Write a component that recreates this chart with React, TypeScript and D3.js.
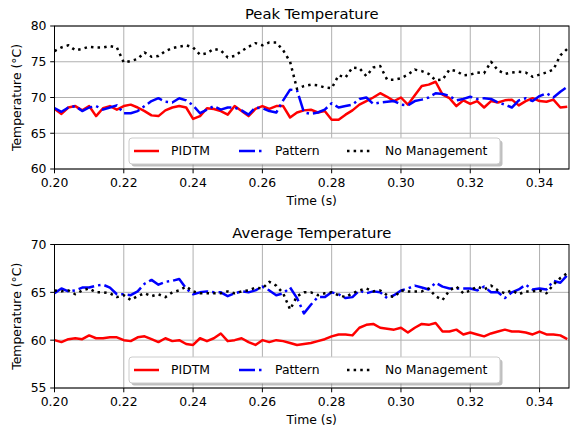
import React from 'react';
import * as d3 from 'd3';

// sampling grid: 0.200 s .. 0.348 s
const startTime = 0.2;
const timeStep = 0.002;

const peakPidtm = [68.4,67.7,68.6,68.8,68.2,68.8,67.4,68.5,68.8,68.3, 68.8,69.0,68.6,68.1,67.5,67.4,68.2,68.6,68.8,68.6,
  67.0,67.4,68.5,68.4,68.1,67.6,68.8,68.1,67.4,68.4, 68.8,68.4,68.8,68.8,67.2,67.9,68.2,68.3,67.9,68.1,
  66.9,66.9,67.6,68.2,69.0,69.5,70.0,70.6,70.1,69.5, 70.0,69.0,70.3,71.6,71.8,72.2,70.4,69.9,68.8,69.6,
  69.1,69.5,68.6,69.5,69.3,69.6,69.7,68.9,69.5,69.9, 69.5,69.4,69.7,68.6,68.7];
const peakPattern = [68.5,68.0,68.6,68.8,68.1,68.6,68.8,68.3,68.6,68.9, 67.8,67.8,68.1,68.8,69.5,69.9,69.4,69.3,69.9,69.6,
  68.9,67.8,68.3,68.8,68.3,68.6,68.6,68.2,67.6,68.6, 68.5,68.1,67.9,69.6,71.1,71.0,67.9,67.7,67.9,68.3,
  69.2,68.6,68.8,69.0,69.8,70.0,69.1,69.3,69.4,69.5, 69.0,68.9,69.5,69.7,70.0,70.6,70.5,70.2,69.6,69.8,
  70.1,69.8,69.9,69.8,69.3,69.0,68.6,69.6,69.9,69.5, 70.2,70.6,70.0,70.8,71.5];
const peakNoMgmt = [76.5,77.0,77.3,76.6,76.8,77.1,77.0,77.0,77.2,77.0, 74.9,75.1,75.4,76.3,75.7,75.8,76.5,76.9,77.1,77.3,
  77.0,76.0,76.2,76.8,76.6,75.6,75.8,76.5,77.1,77.6, 77.3,77.7,77.7,76.6,75.0,71.2,71.6,71.8,71.7,71.4,
  71.3,73.1,72.8,74.2,74.1,73.0,74.2,74.4,72.5,72.5, 72.7,73.2,73.9,73.7,73.3,72.4,72.5,73.9,73.7,73.1,
  73.2,73.5,73.4,75.0,73.8,73.3,73.5,73.6,73.5,72.9, 73.2,73.5,73.9,75.9,76.8];

const avgPidtm = [60.0,59.8,60.1,60.2,60.1,60.5,60.2,60.2,60.3,60.3, 60.0,59.9,60.3,60.4,60.1,59.8,60.2,59.9,60.0,59.6,
  59.5,60.2,59.9,60.2,60.7,59.9,60.0,60.2,59.8,59.5, 60.0,59.8,60.0,59.9,59.7,59.5,59.6,59.7,59.9,60.1,
  60.4,60.6,60.6,60.5,61.3,61.6,61.7,61.3,61.2,61.1, 61.3,60.8,61.3,61.7,61.6,61.8,60.9,60.9,61.1,60.6,
  60.8,60.6,60.4,60.7,60.9,61.1,60.9,60.9,60.8,60.6, 60.9,60.6,60.6,60.5,60.1];
const avgPattern = [64.9,65.4,65.1,65.2,65.5,65.5,65.7,65.8,65.5,64.8, 64.8,64.7,65.1,65.9,66.3,65.8,66.1,66.2,66.4,65.4,
  64.8,65.0,65.1,65.0,65.0,64.6,64.9,65.1,65.0,65.2, 65.6,65.2,64.7,64.9,65.5,64.4,62.8,63.7,64.5,64.5,
  65.0,64.8,64.4,64.5,65.2,64.9,65.1,65.0,64.4,64.7, 65.2,65.4,65.7,65.5,65.3,66.0,65.6,65.4,65.4,65.4,
  65.4,65.2,65.6,65.0,65.0,64.4,65.0,65.3,65.8,65.3, 65.4,65.3,66.2,66.0,66.8];
const avgNoMgmt = [65.2,65.1,65.2,64.8,65.2,65.4,65.0,65.0,64.9,64.5, 64.7,64.2,64.6,64.9,64.6,64.8,64.5,65.0,65.2,65.6,
  65.1,64.9,64.9,64.9,64.9,65.1,64.9,65.1,65.2,65.5, 65.4,66.1,65.7,64.9,63.2,64.6,65.0,65.0,64.7,64.9,
  65.0,64.7,64.5,64.9,65.2,65.4,65.1,65.2,64.7,64.5, 65.2,65.1,65.1,65.1,65.4,64.6,64.2,65.2,65.6,64.9,
  65.2,65.6,65.3,65.7,65.2,64.9,65.2,64.8,65.1,65.1, 65.2,64.9,65.8,66.5,67.0];

const xTicks = [0.2, 0.22, 0.24, 0.26, 0.28, 0.3, 0.32, 0.34];
const peakTicks = [60, 65, 70, 75, 80];
const avgTicks = [55, 60, 65, 70];
const seriesNames = ['PIDTM', 'Pattern', 'No Management'];

const font = 'DejaVu Sans';
const lw = 2.5;
const styles = [
  { color: '#ff0000', dash: undefined as string | undefined },
  { color: '#0000ff', dash: `${6.4 * lw},${1.6 * lw},${lw},${1.6 * lw}` },
  { color: '#000000', dash: `${lw},${1.65 * lw}` },
];

const left = 54.5;
const right = 569;
const x = d3.scaleLinear().domain([0.2, 0.3485]).range([left, right]);

function Panel({ id, top, bottom, yDomain, yTicks, title, series }: any) {
  const y = d3.scaleLinear().domain(yDomain).range([bottom, top]);
  const line = d3.line<number>()
    .x((_, i) => x(startTime + i * timeStep))
    .y(d => y(d));
  const legTop = bottom - 31;
  const legLeft = 129;
  const legW = 371;
  const legH = 26;
  const legY = legTop + legH / 2;
  const handleX = [134, 239, 347];
  const labelX = [171, 275, 385];
  return (
    <g>
      <defs>
        <clipPath id={id}>
          <rect x={left} y={top} width={right - left} height={bottom - top} />
        </clipPath>
      </defs>
      {xTicks.map(t => (
        <line key={t} x1={x(t)} x2={x(t)} y1={top} y2={bottom} stroke="#b0b0b0" strokeWidth={1} />
      ))}
      {yTicks.map((t: number) => (
        <line key={t} x1={left} x2={right} y1={y(t)} y2={y(t)} stroke="#b0b0b0" strokeWidth={1} />
      ))}
      <g clipPath={`url(#${id})`}>
        {series.map((s: number[], k: number) => (
          <path key={k} d={line(s) || ''} fill="none" stroke={styles[k].color} strokeWidth={lw}
            strokeDasharray={styles[k].dash} strokeLinejoin="round" />
        ))}
      </g>
      <rect x={left} y={top} width={right - left} height={bottom - top} fill="none" stroke="#000" strokeWidth={1} />
      {xTicks.map(t => (
        <g key={t}>
          <line x1={x(t)} x2={x(t)} y1={bottom} y2={bottom + 4.3} stroke="#000" strokeWidth={1} />
          <text x={x(t)} y={bottom + 18} textAnchor="middle" fontSize={12.4} fontFamily={font}>{d3.format('.2f')(t)}</text>
        </g>
      ))}
      {yTicks.map((t: number) => (
        <g key={t}>
          <line x1={left - 4.3} x2={left} y1={y(t)} y2={y(t)} stroke="#000" strokeWidth={1} />
          <text x={left - 8} y={y(t) + 4.4} textAnchor="end" fontSize={12.4} fontFamily={font}>{t}</text>
        </g>
      ))}
      <text x={(left + right) / 2} y={top - 7} textAnchor="middle" fontSize={14.8} fontFamily={font}>{title}</text>
      <text x={(left + right) / 2} y={bottom + 36} textAnchor="middle" fontSize={12.4} fontFamily={font}>Time (s)</text>
      <text transform={`translate(21,${(top + bottom) / 2}) rotate(-90)`} textAnchor="middle" fontSize={12.4} fontFamily={font}>Temperature (°C)</text>
      <rect x={legLeft + 2.5} y={legTop + 2.5} width={legW} height={legH} rx={3} fill="#808080" opacity={0.5} />
      <rect x={legLeft} y={legTop} width={legW} height={legH} rx={3} fill="#fff" stroke="#cccccc" strokeWidth={1} />
      {seriesNames.map((n, k) => (
        <g key={n}>
          <line x1={handleX[k]} x2={handleX[k] + 25} y1={legY} y2={legY} stroke={styles[k].color} strokeWidth={lw}
            strokeDasharray={styles[k].dash} />
          <text x={labelX[k]} y={legY + 4.4} fontSize={12.4} fontFamily={font}>{n}</text>
        </g>
      ))}
    </g>
  );
}

export default function App() {
  return (
    <svg width={571} height={427} style={{ position: 'absolute', left: 0, top: 0, background: '#fff' }}>
      <rect width={571} height={427} fill="#fff" />
      <Panel id="clipPeak" top={26} bottom={169} yDomain={[60, 80]} yTicks={peakTicks}
        title="Peak Temperature" series={[peakPidtm, peakPattern, peakNoMgmt]} />
      <Panel id="clipAvg" top={244.5} bottom={388} yDomain={[55, 70]} yTicks={avgTicks}
        title="Average Temperature" series={[avgPidtm, avgPattern, avgNoMgmt]} />
    </svg>
  );
}
